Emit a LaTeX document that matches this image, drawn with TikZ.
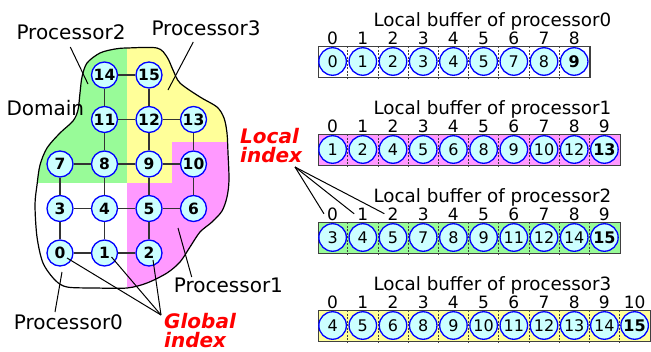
\documentclass[tikz,border=0pt]{standalone}
\usepackage{fontspec}
\setmainfont{DejaVu Sans}
\definecolor{pgreen}{RGB}{152,251,152}
\definecolor{pyellow}{RGB}{255,255,153}
\definecolor{ppink}{RGB}{255,153,255}
\definecolor{pcyan}{RGB}{204,255,255}
\definecolor{pblue}{RGB}{0,0,255}
\definecolor{edgegray}{RGB}{51,51,51}
\tikzset{
  gnode/.style={circle, draw=pblue, line width=1.3pt, fill=pcyan, minimum size=26pt,
    inner sep=0pt, font=\fontsize{15.5}{15.5}\selectfont\bfseries},
  bnode/.style={circle, draw=pblue, line width=1.3pt, fill=pcyan, minimum size=27.5pt,
    inner sep=0pt, font=\fontsize{16}{16}\selectfont},
  gedge/.style={draw=edgegray, line width=1.4pt},
  lbl/.style={font=\fontsize{20}{24}\selectfont, inner sep=0pt, anchor=base west},
  redlbl/.style={font=\fontsize{20}{24}\selectfont\bfseries\itshape, text=red,
    inner sep=0pt, anchor=base west},
  buftitle/.style={font=\fontsize{18.3}{22}\selectfont, inner sep=0pt, anchor=base west},
  idx/.style={font=\fontsize{17}{17}\selectfont, inner sep=3pt, anchor=base},
  bufbox/.style={draw=black!75, line width=1.3pt, anchor=north west,
    minimum height=31pt, inner sep=0pt},
  cellsep/.style={draw=black!75, line width=0.8pt, dash pattern=on 2pt off 1.5pt},
  pointer/.style={draw=black, line width=1pt},
}
\begin{document}
\begin{tikzpicture}[x=1pt, y=-1pt]
\useasboundingbox (0,0) rectangle (651,351);

% ---- processor regions, clipped to the domain ----
\begin{scope}
  \clip plot[smooth cycle] coordinates {
    (100,53) (115,49) (127,48) (157,48) (167,57) (173,70) (180,83) (200,97)
    (217,107) (224,118) (227,133) (228,153) (229,180) (227,197) (222,211)
    (212,222) (200,232) (190,247) (180,262) (167,273) (147,283) (127,288)
    (95,288) (67,287) (55,280) (43,263) (37,237) (35,205) (37,185) (40,165)
    (47,148) (60,133) (73,121) (78,110) (80,93) (82,77) (87,63)};
  \fill[pgreen] (0,0) rectangle (127,183);
  \fill[pyellow] (127,0) rectangle (300,183);
  \fill[ppink] (127,183) -- (172,183) -- (172,142) -- (300,142) -- (300,351)
    -- (127,351) -- cycle;
\end{scope}
\draw[line width=1.2pt] plot[smooth cycle] coordinates {
    (100,53) (115,49) (127,48) (157,48) (167,57) (173,70) (180,83) (200,97)
    (217,107) (224,118) (227,133) (228,153) (229,180) (227,197) (222,211)
    (212,222) (200,232) (190,247) (180,262) (167,273) (147,283) (127,288)
    (95,288) (67,287) (55,280) (43,263) (37,237) (35,205) (37,185) (40,165)
    (47,148) (60,133) (73,121) (78,110) (80,93) (82,77) (87,63)};

% ---- region labels ----
\node[lbl] (p2lbl) at (16.3,39) {Processor2};
\node[lbl] (p3lbl) at (151.3,35) {Processor3};
\node[lbl] (domlbl) at (6.3,115.5) {Domain};
\node[lbl] (p1lbl) at (173.7,292.5) {Processor1};
\node[lbl] (p0lbl) at (13.7,329) {Processor0};

\coordinate (p2tip) at (88,84);
\coordinate (p3tip) at (168,90);
\coordinate (p1tip) at (178,228);
\coordinate (p0tip) at (62,272);
\draw[pointer] ([shift={(54,8)}]p2lbl.base west) -- (p2tip);
\draw[pointer] ([shift={(42,7)}]p3lbl.base west) -- (p3tip);
\draw[pointer] ([shift={(18,-15.5)}]p1lbl.base west) -- (p1tip);
\draw[pointer] ([shift={(41.3,-17)}]p0lbl.base west) -- (p0tip);

% ---- global grid ----
\node[gnode] (n0)  at (60,253)    {0};
\node[gnode] (n1)  at (104.5,253) {1};
\node[gnode] (n2)  at (149,253)   {2};
\node[gnode] (n3)  at (60,208.5)  {3};
\node[gnode] (n4)  at (104.5,208.5) {4};
\node[gnode] (n5)  at (149,208.5) {5};
\node[gnode] (n6)  at (193.5,208.5) {6};
\node[gnode] (n7)  at (60,164)    {7};
\node[gnode] (n8)  at (104.5,164) {8};
\node[gnode] (n9)  at (149,164)   {9};
\node[gnode] (n10) at (193.5,164) {10};
\node[gnode] (n11) at (104.5,119.5) {11};
\node[gnode] (n12) at (149,119.5) {12};
\node[gnode] (n13) at (193.5,119.5) {13};
\node[gnode] (n14) at (104.5,75)  {14};
\node[gnode] (n15) at (149,75)    {15};

\foreach \a/\b in {n0/n1,n1/n2,n3/n4,n4/n5,n5/n6,n7/n8,n8/n9,n9/n10,n11/n12,
    n12/n13,n14/n15,n0/n3,n3/n7,n1/n4,n4/n8,n8/n11,n11/n14,n2/n5,n5/n9,n9/n12,
    n12/n15,n6/n10,n10/n13}
  \draw[gedge] (\a) -- (\b);

% ---- global index callout ----
\node[redlbl] (glob1) at (164,328.5) {Global};
\node[redlbl] (glob2) at (164,347) {index};
\coordinate (gi) at (161,315);
\draw[pointer] ([shift={(7,5)}]n0.center) -- (gi);
\draw[pointer] ([shift={(7,4)}]n1.center) -- (gi);
\draw[pointer] ([shift={(4,7)}]n2.center) -- (gi);

% ---- local buffers ----
% processor0
\node[buftitle] (t0) at (373.3,26) {Local buffer of processor0};
\node[bufbox, fill=white, minimum width=271.8pt] (box0) at (317.5,46) {};
\foreach \j in {1,...,8}
  \draw[cellsep] ([xshift={30.2pt*\j}]box0.north west) -- ([xshift={30.2pt*\j}]box0.south west);
\foreach \v [count=\i from 0] in {0,1,2,3,4,5,7,8,{\bfseries 9}} {
  \node[bnode] (b0c\i) at ({317.5+30.2*(\i+0.5)},61.5) {\v};
  \node[idx] (b0i\i) at ({317.5+30.2*(\i+0.5)},44) {\i};
}
% processor1
\node[buftitle] (t1) at (373.3,114) {Local buffer of processor1};
\node[bufbox, fill=ppink, minimum width=302pt] (box1) at (317.5,134) {};
\foreach \j in {1,...,9}
  \draw[cellsep] ([xshift={30.2pt*\j}]box1.north west) -- ([xshift={30.2pt*\j}]box1.south west);
\foreach \v [count=\i from 0] in {1,2,4,5,6,8,9,10,12,{\bfseries 13}} {
  \node[bnode] (b1c\i) at ({317.5+30.2*(\i+0.5)},149.5) {\v};
  \node[idx] (b1i\i) at ({317.5+30.2*(\i+0.5)},132) {\i};
}
% processor2
\node[buftitle] (t2) at (373.3,202) {Local buffer of processor2};
\node[bufbox, fill=pgreen, minimum width=302pt] (box2) at (317.5,222) {};
\foreach \j in {1,...,9}
  \draw[cellsep] ([xshift={30.2pt*\j}]box2.north west) -- ([xshift={30.2pt*\j}]box2.south west);
\foreach \v [count=\i from 0] in {3,4,5,7,8,9,11,12,14,{\bfseries 15}} {
  \node[bnode] (b2c\i) at ({317.5+30.2*(\i+0.5)},237.5) {\v};
  \node[idx] (b2i\i) at ({317.5+30.2*(\i+0.5)},220) {\i};
}
% processor3
\node[buftitle] (t3) at (373.3,290) {Local buffer of processor3};
\node[bufbox, fill=pyellow, minimum width=332.2pt] (box3) at (317.5,310) {};
\foreach \j in {1,...,10}
  \draw[cellsep] ([xshift={30.2pt*\j}]box3.north west) -- ([xshift={30.2pt*\j}]box3.south west);
\foreach \v [count=\i from 0] in {4,5,6,8,9,10,11,12,13,14,{\bfseries 15}} {
  \node[bnode] (b3c\i) at ({317.5+30.2*(\i+0.5)},325.5) {\v};
  \node[idx] (b3i\i) at ({317.5+30.2*(\i+0.5)},308) {\i};
}

% ---- local index callout ----
\node[redlbl] (loc1) at (240,143.5) {Local};
\node[redlbl] (loc2) at (240,162) {index};
\coordinate (li) at (295,167);
\draw[pointer] (li) -- (b2i0.west);
\draw[pointer] (li) -- (b2i1.west);
\draw[pointer] (li) -- (b2i2.west);
\end{tikzpicture}
\end{document}
